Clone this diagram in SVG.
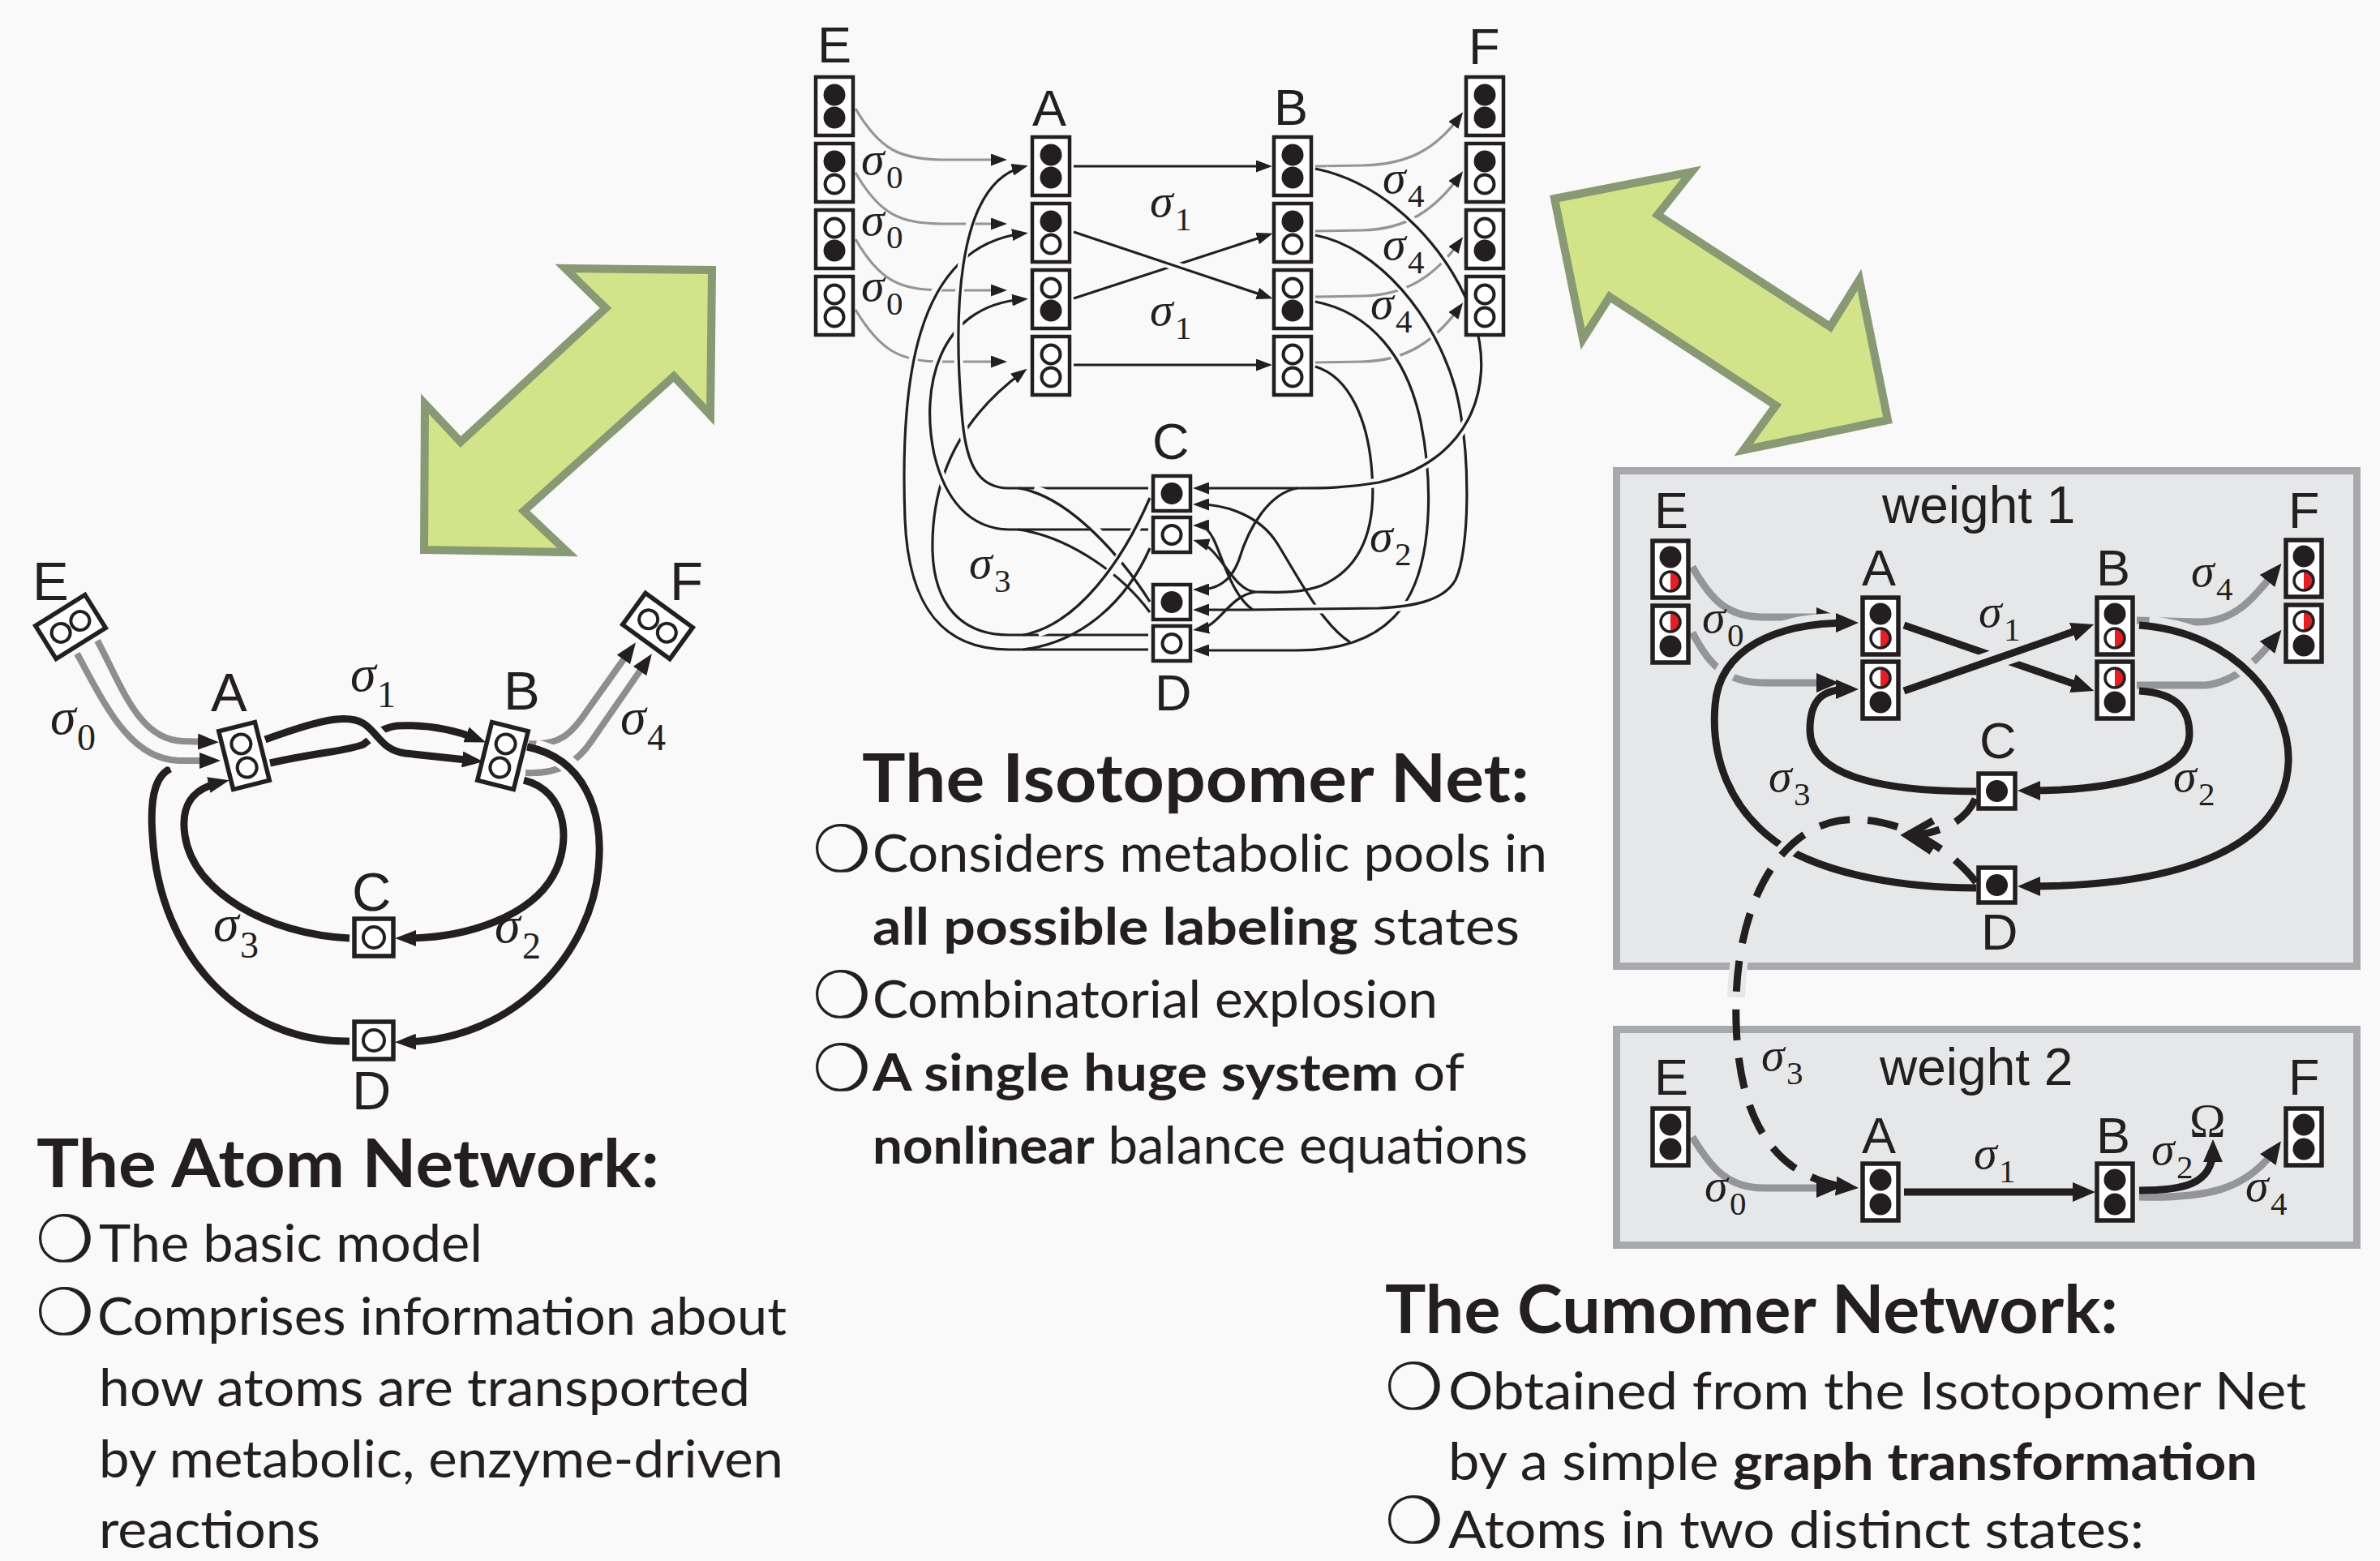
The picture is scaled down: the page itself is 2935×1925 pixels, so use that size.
<svg xmlns="http://www.w3.org/2000/svg" width="2935" height="1925" viewBox="0 0 2935 1925">
<style>
.lb{font-family:"Liberation Sans",sans-serif;font-size:63px;fill:#231f20}
.sg{font-family:"Liberation Serif",serif;font-style:italic;font-size:58px;fill:#231f20}
.sb{font-style:normal;font-size:41px}
.sg2{font-family:"Liberation Serif",serif;font-style:italic;font-size:64px;fill:#231f20}
.sb2{font-style:normal;font-size:46px}
.ttl{font-family:Lato,"Open Sans",sans-serif;font-weight:700;font-size:82px;fill:#231f20}
.bd{font-family:Lato,"Open Sans",sans-serif;font-size:63px;fill:#231f20}
.b{font-weight:700}
.bul{font-family:"DejaVu Sans",sans-serif;font-size:80px;fill:#231f20}
.bx{fill:#fff;stroke:#231f20;stroke-width:4.5}
.bx5{fill:#fff;stroke:#231f20;stroke-width:5.5}
.fc{fill:#231f20}
.oc{fill:#fff;stroke:#231f20;stroke-width:4}
.gt{fill:none;stroke:#939598;stroke-width:3.2}
.kt{fill:none;stroke:#231f20;stroke-width:3.2}
.ht{fill:none;stroke:#f9f9f9;stroke-width:11}
.gm{fill:none;stroke:#8e8e8e;stroke-width:8}
.km{fill:none;stroke:#231f20;stroke-width:9}
.hm{fill:none;stroke:#f9f9f9;stroke-width:22}
.gk{fill:none;stroke:#939598;stroke-width:9}
.kk{fill:none;stroke:#231f20;stroke-width:9}
.hk{fill:none;stroke:#e6e7e8;stroke-width:24}
.dk{fill:none;stroke:#231f20;stroke-width:9;stroke-dasharray:38 22}
.wbox{fill:#e6e7e8;stroke:#a7a9ac;stroke-width:9}
.grn{fill:#d3e38a;stroke:#889974;stroke-width:10;stroke-linejoin:miter}
</style>
<defs>
<marker id="at" markerUnits="userSpaceOnUse" markerWidth="20" markerHeight="15" refX="13" refY="7.5" orient="auto"><path d="M0,0 L20,7.5 L0,15 z" fill="#231f20"/></marker>
<marker id="am" markerUnits="userSpaceOnUse" markerWidth="26" markerHeight="20" refX="14" refY="10" orient="auto"><path d="M0,0 L26,10 L0,20 z" fill="#231f20"/></marker>
<marker id="ak" markerUnits="userSpaceOnUse" markerWidth="28" markerHeight="24" refX="16" refY="12" orient="auto"><path d="M0,0 L28,12 L0,24 z" fill="#231f20"/></marker>
<g id="hr"><circle r="12" fill="#fff"/><path d="M0,-12 A12,12 0 0 1 0,12 Z" fill="#e31e24"/><circle r="12" fill="none" stroke="#231f20" stroke-width="3.5"/></g>
<circle id="fd" r="13.5" fill="#231f20"/>
</defs>
<rect width="2935" height="1925" fill="#f9f9f9"/>

<!-- green double arrows -->
<g id="arrow-left"><polygon class="grn" points="523,678 700,681 646,630 831,464 876,512 878,333 697,331 747,380 568,545 524,498"/></g>
<g id="arrow-right"><polygon class="grn" points="1917,245 2086,212 2044,265 2257,403 2293,345 2328,518 2150,555 2190,500 1985,366 1952,418"/></g>

<!-- ================= ATOM NETWORK ================= -->
<g id="atom-connectors">
<path class="gm" d="M120,790 C150,845 170,912 225,914 L258,915" marker-end="url(#am)"/>
<path class="km" d="M431,1284 C300,1286 196,1180 188,1030 C184,975 195,955 210,948"/>
<path class="hm" d="M95,806 C130,870 160,936 220,938 L255,938" style="stroke-width:18"/>
<path class="gm" d="M95,806 C130,870 160,936 220,938 L260,938" marker-end="url(#am)"/>
<path class="km" d="M431,1157 C330,1152 238,1100 228,1030 C222,990 240,972 271,965" marker-end="url(#am)"/>
<path class="gm" d="M652,917 C690,920 705,905 725,875 L777,802" marker-end="url(#am)"/>
<path class="gm" d="M648,953 C690,955 712,940 730,913 L797,816" marker-end="url(#am)"/>
<path class="hm" d="M660,923 C720,935 745,1000 738,1070 C730,1170 640,1282 499,1285"/>
<path class="km" d="M650,921 C720,935 745,1000 738,1070 C730,1170 640,1282 499,1285" marker-end="url(#am)"/>
<path class="km" d="M646,962 C700,975 705,1040 682,1080 C655,1128 580,1157 499,1157" marker-end="url(#am)"/>
<path class="km" d="M333,941 C390,928 430,926 448,918 C462,908 468,898 490,895 C530,893 560,900 588,911" marker-end="url(#am)"/>
<path class="hm" d="M340,909 C380,893 425,878 448,892 C466,903 470,925 500,929 L560,935"/>
<path class="km" d="M327,912 C380,893 425,878 448,892 C466,903 470,925 500,929 L584,938" marker-end="url(#am)"/>
</g>
<g id="atom-E" transform="translate(87,773) rotate(-32)"><rect class="bx5" x="-36" y="-24" width="72" height="48"/><circle class="oc" cx="-14" cy="0" r="11.5"/><circle class="oc" cx="14" cy="0" r="11.5"/></g>
<g id="atom-F" transform="translate(811,772) rotate(36)"><rect class="bx5" x="-36" y="-24" width="72" height="48"/><circle class="oc" cx="-14" cy="0" r="11.5"/><circle class="oc" cx="14" cy="0" r="11.5"/></g>
<g id="atom-A" transform="translate(301,932) rotate(-14)"><rect class="bx5" x="-23" y="-37" width="46" height="74"/><circle class="oc" cx="0" cy="-15" r="12"/><circle class="oc" cx="0" cy="15" r="12"/></g>
<g id="atom-B" transform="translate(620,932) rotate(14)"><rect class="bx5" x="-23" y="-37" width="46" height="74"/><circle class="oc" cx="0" cy="-15" r="12"/><circle class="oc" cx="0" cy="15" r="12"/></g>
<g id="atom-C"><rect class="bx5" x="437" y="1133" width="48" height="46"/><circle class="oc" cx="461" cy="1156" r="13"/></g>
<g id="atom-D"><rect class="bx5" x="437" y="1260" width="48" height="46"/><circle class="oc" cx="461" cy="1283" r="13"/></g>
<g id="atom-labels">
<text class="lb" x="40" y="740" style="font-size:67px">E</text>
<text class="lb" x="826" y="740" style="font-size:67px">F</text>
<text class="lb" x="260" y="877" style="font-size:67px">A</text>
<text class="lb" x="621" y="875" style="font-size:67px">B</text>
<text class="lb" x="434" y="1123" style="font-size:67px">C</text>
<text class="lb" x="434" y="1368" style="font-size:67px">D</text>
<text class="sg2" x="62" y="905">σ<tspan class="sb2" x="95" y="925">0</tspan></text>
<text class="sg2" x="432" y="852">σ<tspan class="sb2" x="465" y="872">1</tspan></text>
<text class="sg2" x="765" y="905">σ<tspan class="sb2" x="798" y="925">4</tspan></text>
<text class="sg2" x="263" y="1160">σ<tspan class="sb2" x="296" y="1181">3</tspan></text>
<text class="sg2" x="610" y="1162">σ<tspan class="sb2" x="644" y="1182">2</tspan></text>
</g>

<!-- ================= ISOTOPOMER NET ================= -->
<g id="iso-connectors">
<path class="gt" d="M1055,134 C1085,185 1110,196 1160,197 L1235,197" marker-end="url(#at)"/>
<path class="gt" d="M1055,213 C1085,265 1110,275 1160,276 L1235,276" marker-end="url(#at)"/>
<path class="gt" d="M1055,295 C1085,347 1110,357 1160,358 L1235,358" marker-end="url(#at)"/>
<path class="gt" d="M1055,382 C1085,432 1110,446 1160,446 L1235,446" marker-end="url(#at)"/>
<path class="gt" d="M1622,205 L1680,204 C1735,203 1770,185 1800,144" marker-end="url(#at)"/>
<path class="gt" d="M1622,285 L1680,284 C1735,283 1770,258 1800,217" marker-end="url(#at)"/>
<path class="gt" d="M1622,366 L1680,365 C1735,364 1770,340 1800,298" marker-end="url(#at)"/>
<path class="gt" d="M1622,447 L1680,446 C1735,445 1770,420 1800,379" marker-end="url(#at)"/>
<path class="kt" d="M1324,205 L1562,205" marker-end="url(#at)"/>
<path class="kt" d="M1324,450 L1562,450" marker-end="url(#at)"/>
<path class="kt" d="M1324,368 L1563,290" marker-end="url(#at)"/>
<path class="ht" d="M1340,291 L1550,362"/>
<path class="kt" d="M1324,286 L1563,366" marker-end="url(#at)"/>
<!-- left tangle (sigma3) -->
<path class="ht" d="M1400,801 L1244,801 C1160,801 1120,745 1116,640 C1110,480 1125,305 1250,290"/>
<path class="kt" d="M1416,801 L1244,801 C1160,801 1120,745 1116,640 C1110,480 1125,305 1261,288" marker-end="url(#at)"/>
<path class="ht" d="M1400,783 L1244,783 C1185,783 1152,745 1150,680 C1148,590 1185,515 1255,463"/>
<path class="kt" d="M1416,783 L1244,783 C1185,783 1152,745 1150,680 C1148,590 1185,515 1261,459" marker-end="url(#at)"/>
<path class="ht" d="M1400,653 L1244,653 C1195,652 1165,615 1152,560 C1135,480 1155,378 1250,370"/>
<path class="kt" d="M1416,653 L1244,653 C1195,652 1165,615 1152,560 C1135,480 1155,378 1261,369" marker-end="url(#at)"/>
<path class="ht" d="M1400,602 L1244,602 C1205,602 1192,570 1187,520 C1176,400 1176,228 1250,208"/>
<path class="kt" d="M1416,602 L1244,602 C1205,602 1192,570 1187,520 C1176,400 1176,228 1261,206" marker-end="url(#at)"/>
<path class="ht" d="M1275,604 C1330,616 1385,690 1410,730"/>
<path class="kt" d="M1256,602 C1320,612 1385,690 1418,742"/>
<path class="kt" d="M1256,653 C1320,662 1385,710 1418,755"/>
<path class="ht" d="M1280,780 C1335,765 1385,690 1412,628"/>
<path class="kt" d="M1262,783 C1330,770 1385,690 1418,614"/>
<path class="kt" d="M1262,801 C1335,792 1390,740 1418,676"/>
<!-- right tangle (sigma2) -->
<path class="ht" d="M1635,455 C1670,470 1688,520 1692,585 C1697,650 1680,700 1630,722 C1600,733 1570,730 1555,730"/>
<path class="kt" d="M1622,452 C1665,465 1688,520 1692,585 C1697,650 1680,700 1630,722 C1600,733 1570,730 1548,730 C1520,728 1505,676 1478,668" marker-end="url(#at)"/>
<path class="kt" d="M1548,730 C1515,735 1505,772 1478,776" marker-end="url(#at)"/>
<path class="ht" d="M1635,375 C1690,385 1735,440 1752,520 C1768,600 1765,690 1735,740 C1705,790 1650,802 1600,802 L1490,802"/>
<path class="kt" d="M1622,372 C1690,385 1735,440 1752,520 C1768,600 1765,690 1735,740 C1705,790 1650,802 1600,802 L1478,802" marker-end="url(#at)"/>
<path class="kt" d="M1665,792 C1630,770 1600,710 1575,670 C1555,638 1515,622 1478,622" marker-end="url(#at)"/>
<path class="ht" d="M1635,293 C1700,305 1770,390 1795,480 C1815,560 1812,680 1795,715 C1780,742 1740,748 1700,750 L1555,752"/>
<path class="kt" d="M1622,290 C1700,305 1770,390 1795,480 C1815,560 1812,680 1795,715 C1780,742 1740,748 1700,750 L1540,752 C1520,752 1500,752 1478,752" marker-end="url(#at)"/>
<path class="kt" d="M1545,752 C1520,735 1508,690 1498,668 C1492,655 1485,648 1478,648" marker-end="url(#at)"/>
<path class="ht" d="M1635,211 C1720,228 1795,320 1818,395 C1845,480 1810,570 1700,595 C1660,602 1630,602 1610,602"/>
<path class="kt" d="M1622,208 C1720,228 1795,320 1818,395 C1845,480 1810,570 1700,595 C1660,602 1630,602 1600,602 L1478,602" marker-end="url(#at)"/>
<path class="kt" d="M1600,602 C1565,608 1540,650 1528,690 C1518,718 1500,727 1478,727" marker-end="url(#at)"/>
</g>
<g id="iso-E1"><rect class="bx" x="1006" y="95" width="46" height="72"/><circle class="fc" cx="1029" cy="117" r="13.5"/><circle class="fc" cx="1029" cy="145" r="13.5"/></g>
<g id="iso-E2"><rect class="bx" x="1006" y="177" width="46" height="72"/><circle class="fc" cx="1029" cy="199" r="13.5"/><circle class="oc" cx="1029" cy="227" r="11.5"/></g>
<g id="iso-E3"><rect class="bx" x="1006" y="259" width="46" height="72"/><circle class="oc" cx="1029" cy="281" r="11.5"/><circle class="fc" cx="1029" cy="309" r="13.5"/></g>
<g id="iso-E4"><rect class="bx" x="1006" y="341" width="46" height="72"/><circle class="oc" cx="1029" cy="363" r="11.5"/><circle class="oc" cx="1029" cy="391" r="11.5"/></g>
<g id="iso-A1"><rect class="bx" x="1273" y="169" width="46" height="72"/><circle class="fc" cx="1296" cy="191" r="13.5"/><circle class="fc" cx="1296" cy="219" r="13.5"/></g>
<g id="iso-A2"><rect class="bx" x="1273" y="251" width="46" height="72"/><circle class="fc" cx="1296" cy="273" r="13.5"/><circle class="oc" cx="1296" cy="301" r="11.5"/></g>
<g id="iso-A3"><rect class="bx" x="1273" y="333" width="46" height="72"/><circle class="oc" cx="1296" cy="355" r="11.5"/><circle class="fc" cx="1296" cy="383" r="13.5"/></g>
<g id="iso-A4"><rect class="bx" x="1273" y="415" width="46" height="72"/><circle class="oc" cx="1296" cy="437" r="11.5"/><circle class="oc" cx="1296" cy="465" r="11.5"/></g>
<g id="iso-B1"><rect class="bx" x="1571" y="169" width="46" height="72"/><circle class="fc" cx="1594" cy="191" r="13.5"/><circle class="fc" cx="1594" cy="219" r="13.5"/></g>
<g id="iso-B2"><rect class="bx" x="1571" y="251" width="46" height="72"/><circle class="fc" cx="1594" cy="273" r="13.5"/><circle class="oc" cx="1594" cy="301" r="11.5"/></g>
<g id="iso-B3"><rect class="bx" x="1571" y="333" width="46" height="72"/><circle class="oc" cx="1594" cy="355" r="11.5"/><circle class="fc" cx="1594" cy="383" r="13.5"/></g>
<g id="iso-B4"><rect class="bx" x="1571" y="415" width="46" height="72"/><circle class="oc" cx="1594" cy="437" r="11.5"/><circle class="oc" cx="1594" cy="465" r="11.5"/></g>
<g id="iso-F1"><rect class="bx" x="1808" y="95" width="46" height="72"/><circle class="fc" cx="1831" cy="117" r="13.5"/><circle class="fc" cx="1831" cy="145" r="13.5"/></g>
<g id="iso-F2"><rect class="bx" x="1808" y="177" width="46" height="72"/><circle class="fc" cx="1831" cy="199" r="13.5"/><circle class="oc" cx="1831" cy="227" r="11.5"/></g>
<g id="iso-F3"><rect class="bx" x="1808" y="259" width="46" height="72"/><circle class="oc" cx="1831" cy="281" r="11.5"/><circle class="fc" cx="1831" cy="309" r="13.5"/></g>
<g id="iso-F4"><rect class="bx" x="1808" y="341" width="46" height="72"/><circle class="oc" cx="1831" cy="363" r="11.5"/><circle class="oc" cx="1831" cy="391" r="11.5"/></g>
<g id="iso-C1"><rect class="bx" x="1422" y="587" width="46" height="43"/><circle class="fc" cx="1445" cy="608.5" r="13.5"/></g>
<g id="iso-C2"><rect class="bx" x="1422" y="638" width="46" height="43"/><circle class="oc" cx="1445" cy="659.5" r="11.5"/></g>
<g id="iso-D1"><rect class="bx" x="1422" y="721" width="46" height="43"/><circle class="fc" cx="1445" cy="742.5" r="13.5"/></g>
<g id="iso-D2"><rect class="bx" x="1422" y="772" width="46" height="43"/><circle class="oc" cx="1445" cy="793.5" r="11.5"/></g>
<g id="iso-labels">
<text class="lb" x="1008" y="77">E</text>
<text class="lb" x="1811" y="79">F</text>
<text class="lb" x="1273" y="155">A</text>
<text class="lb" x="1571" y="154">B</text>
<text class="lb" x="1421" y="566">C</text>
<text class="lb" x="1424" y="876">D</text>
<text class="sg" x="1062" y="215">σ<tspan class="sb" x="1093" y="232">0</tspan></text>
<text class="sg" x="1062" y="290">σ<tspan class="sb" x="1093" y="306">0</tspan></text>
<text class="sg" x="1062" y="371">σ<tspan class="sb" x="1093" y="388">0</tspan></text>
<text class="sg" x="1418" y="267">σ<tspan class="sb" x="1449" y="284">1</tspan></text>
<text class="sg" x="1418" y="401">σ<tspan class="sb" x="1449" y="418">1</tspan></text>
<text class="sg" x="1705" y="238">σ<tspan class="sb" x="1736" y="255">4</tspan></text>
<text class="sg" x="1705" y="320">σ<tspan class="sb" x="1736" y="337">4</tspan></text>
<text class="sg" x="1690" y="393">σ<tspan class="sb" x="1721" y="410">4</tspan></text>
<text class="sg" x="1689" y="680">σ<tspan class="sb" x="1720" y="697">2</tspan></text>
<text class="sg" x="1195" y="713">σ<tspan class="sb" x="1226" y="730">3</tspan></text>
</g>

<!-- ================= CUMOMER NETWORK ================= -->
<rect id="weight1-box" class="wbox" x="1993.5" y="580.5" width="913" height="611"/>
<rect id="weight2-box" class="wbox" x="1993.5" y="1269.5" width="913" height="266"/>
<g id="cum-connectors">
<path class="gk" d="M2087,699 C2110,740 2130,761 2175,761 L2256,761" marker-end="url(#ak)"/>
<path class="gk" d="M2087,780 C2105,815 2125,842 2175,842 L2256,842" marker-end="url(#ak)"/>
<path class="gk" d="M2635,765 L2711,767 C2760,767 2785,730 2806,704" marker-end="url(#ak)"/>
<path class="gk" d="M2635,845 L2720,845 C2760,840 2785,812 2806,786" marker-end="url(#ak)"/>
<path class="kk" d="M2437,976 C2330,976 2232,960 2232,900 C2232,860 2250,850 2280,850" marker-end="url(#ak)"/>
<path class="hk" d="M2425,1095 C2350,1095 2260,1080 2200,1045 C2130,1000 2110,930 2115,870 C2120,800 2190,768 2270,768"/>
<path class="kk" d="M2437,1095 C2350,1095 2260,1080 2200,1045 C2130,1000 2110,930 2115,870 C2120,800 2190,768 2280,768" marker-end="url(#ak)"/>
<path class="kk" d="M2638,852 C2690,855 2700,880 2700,905 C2700,950 2620,975 2500,975" marker-end="url(#ak)"/>
<path class="hk" d="M2650,772 C2760,780 2825,870 2822,940 C2818,1040 2700,1093 2510,1093"/>
<path class="kk" d="M2638,771 C2760,780 2825,870 2822,940 C2818,1040 2700,1093 2500,1093" marker-end="url(#ak)"/>
<path class="kk" d="M2348,771 L2571,848" marker-end="url(#ak)"/>
<path class="hk" d="M2360,848 L2555,780"/>
<path class="kk" d="M2348,852 L2571,774" marker-end="url(#ak)"/>
<path class="dk" d="M2436,985 C2425,1010 2400,1025 2362,1030"/>
<polyline points="2384,1012 2352,1030 2382,1050" fill="none" stroke="#231f20" stroke-width="9"/>
<path class="hk" d="M2268,1012 C2195,1024 2145,1110 2141,1230" style="stroke-width:22"/>
<path class="dk" d="M2437,1088 C2400,1040 2330,1003 2268,1012 C2195,1024 2145,1110 2141,1230 C2138,1340 2165,1405 2210,1438 C2238,1456 2258,1462 2280,1464" marker-end="url(#ak)"/>
<path class="gk" d="M2087,1402 C2110,1440 2130,1465 2175,1465 L2256,1465" marker-end="url(#ak)"/>
<path class="kk" d="M2348,1470 L2572,1470" marker-end="url(#ak)"/>
<path class="gk" d="M2638,1476 C2720,1478 2770,1468 2806,1417" marker-end="url(#ak)"/>
<path class="kk" d="M2638,1468 C2690,1468 2729,1462 2729,1417" marker-end="url(#ak)"/>
</g>
<g id="cum1-E1"><rect class="bx5" x="2038" y="667" width="44" height="70"/><use href="#fd" x="2060" y="687"/><use href="#hr" x="2060" y="717"/></g>
<g id="cum1-E2"><rect class="bx5" x="2038" y="747" width="44" height="70"/><use href="#hr" x="2060" y="767"/><use href="#fd" x="2060" y="797"/></g>
<g id="cum1-A1"><rect class="bx5" x="2297" y="737" width="44" height="70"/><use href="#fd" x="2319" y="757"/><use href="#hr" x="2319" y="787"/></g>
<g id="cum1-A2"><rect class="bx5" x="2297" y="816" width="44" height="70"/><use href="#hr" x="2319" y="836"/><use href="#fd" x="2319" y="866"/></g>
<g id="cum1-B1"><rect class="bx5" x="2586" y="737" width="44" height="70"/><use href="#fd" x="2608" y="757"/><use href="#hr" x="2608" y="787"/></g>
<g id="cum1-B2"><rect class="bx5" x="2586" y="816" width="44" height="70"/><use href="#hr" x="2608" y="836"/><use href="#fd" x="2608" y="866"/></g>
<g id="cum1-F1"><rect class="bx5" x="2819" y="666" width="44" height="70"/><use href="#fd" x="2841" y="686"/><use href="#hr" x="2841" y="716"/></g>
<g id="cum1-F2"><rect class="bx5" x="2819" y="746" width="44" height="70"/><use href="#hr" x="2841" y="766"/><use href="#fd" x="2841" y="796"/></g>
<g id="cum1-C"><rect class="bx5" x="2440" y="954" width="45" height="43"/><use href="#fd" x="2462.5" y="975.5"/></g>
<g id="cum1-D"><rect class="bx5" x="2440" y="1070" width="45" height="43"/><use href="#fd" x="2462.5" y="1091.5"/></g>
<g id="cum2-E"><rect class="bx5" x="2038" y="1367" width="44" height="70"/><use href="#fd" x="2060" y="1387"/><use href="#fd" x="2060" y="1417"/></g>
<g id="cum2-A"><rect class="bx5" x="2297" y="1435" width="44" height="70"/><use href="#fd" x="2319" y="1455"/><use href="#fd" x="2319" y="1485"/></g>
<g id="cum2-B"><rect class="bx5" x="2586" y="1435" width="44" height="70"/><use href="#fd" x="2608" y="1455"/><use href="#fd" x="2608" y="1485"/></g>
<g id="cum2-F"><rect class="bx5" x="2819" y="1367" width="44" height="70"/><use href="#fd" x="2841" y="1387"/><use href="#fd" x="2841" y="1417"/></g>
<g id="cum-labels">
<text class="lb" x="2321" y="645" style="font-size:64px">weight 1</text>
<text class="lb" x="2318" y="1338" style="font-size:64px">weight 2</text>
<text class="lb" x="2040" y="651">E</text>
<text class="lb" x="2296" y="722">A</text>
<text class="lb" x="2585" y="722">B</text>
<text class="lb" x="2822" y="651">F</text>
<text class="lb" x="2441" y="935">C</text>
<text class="lb" x="2443" y="1171">D</text>
<text class="lb" x="2040" y="1350">E</text>
<text class="lb" x="2296" y="1422">A</text>
<text class="lb" x="2585" y="1422">B</text>
<text class="lb" x="2822" y="1350">F</text>
<text class="sg" x="2099" y="780">σ<tspan class="sb" x="2130" y="797">0</tspan></text>
<text class="sg" x="2440" y="773">σ<tspan class="sb" x="2471" y="790">1</tspan></text>
<text class="sg" x="2702" y="723">σ<tspan class="sb" x="2733" y="740">4</tspan></text>
<text class="sg" x="2181" y="976">σ<tspan class="sb" x="2212" y="993">3</tspan></text>
<text class="sg" x="2680" y="976">σ<tspan class="sb" x="2711" y="993">2</tspan></text>
<text class="sg" x="2172" y="1320">σ<tspan class="sb" x="2203" y="1337">3</tspan></text>
<text class="sg" x="2102" y="1481">σ<tspan class="sb" x="2133" y="1498">0</tspan></text>
<text class="sg" x="2434" y="1441">σ<tspan class="sb" x="2465" y="1458">1</tspan></text>
<text class="sg" x="2653" y="1436">σ<tspan class="sb" x="2684" y="1453">2</tspan></text>
<text class="sg" x="2769" y="1481">σ<tspan class="sb" x="2800" y="1498">4</tspan></text>
<text class="lb" x="2700" y="1402" style="font-family:'Liberation Serif',serif;font-size:60px">Ω</text>
</g>

<!-- ================= TEXT BLOCKS ================= -->
<g id="text-atom">
<text class="ttl" x="45" y="1464" textLength="768" lengthAdjust="spacingAndGlyphs">The Atom Network:</text>
<text class="bul" x="44" y="1556">❍</text>
<text class="bd" x="122" y="1556" textLength="473" lengthAdjust="spacingAndGlyphs">The basic model</text>
<text class="bul" x="44" y="1646">❍</text>
<text class="bd" x="120" y="1646" textLength="850" lengthAdjust="spacingAndGlyphs">Comprises information about</text>
<text class="bd" x="122" y="1734" textLength="803" lengthAdjust="spacingAndGlyphs">how atoms are transported</text>
<text class="bd" x="122" y="1822" textLength="844" lengthAdjust="spacingAndGlyphs">by metabolic, enzyme-driven</text>
<text class="bd" x="122" y="1909" textLength="273" lengthAdjust="spacingAndGlyphs">reactions</text>
</g>
<g id="text-iso">
<text class="ttl" x="1063" y="989" textLength="823" lengthAdjust="spacingAndGlyphs">The Isotopomer Net:</text>
<text class="bul" x="1002" y="1075">❍</text>
<text class="bd" x="1076" y="1075" textLength="832" lengthAdjust="spacingAndGlyphs">Considers metabolic pools in</text>
<text class="bd" x="1076" y="1165" textLength="798" lengthAdjust="spacingAndGlyphs"><tspan class="b">all possible labeling</tspan> states</text>
<text class="bul" x="1002" y="1255">❍</text>
<text class="bd" x="1076" y="1255" textLength="697" lengthAdjust="spacingAndGlyphs">Combinatorial explosion</text>
<text class="bul" x="1002" y="1345">❍</text>
<text class="bd" x="1076" y="1345" textLength="730" lengthAdjust="spacingAndGlyphs"><tspan class="b">A single huge system</tspan> of</text>
<text class="bd" x="1076" y="1435" textLength="808" lengthAdjust="spacingAndGlyphs"><tspan class="b">nonlinear</tspan> balance equations</text>
</g>
<g id="text-cum">
<text class="ttl" x="1708" y="1644" textLength="904" lengthAdjust="spacingAndGlyphs">The Cumomer Network:</text>
<text class="bul" x="1708" y="1738">❍</text>
<text class="bd" x="1786" y="1738" textLength="1058" lengthAdjust="spacingAndGlyphs">Obtained from the Isotopomer Net</text>
<text class="bd" x="1786" y="1825" textLength="998" lengthAdjust="spacingAndGlyphs">by a simple <tspan class="b">graph transformation</tspan></text>
<text class="bul" x="1708" y="1903">❍</text>
<text class="bd" x="1786" y="1909" textLength="858" lengthAdjust="spacingAndGlyphs">Atoms in two distinct states:</text>
</g>
</svg>
